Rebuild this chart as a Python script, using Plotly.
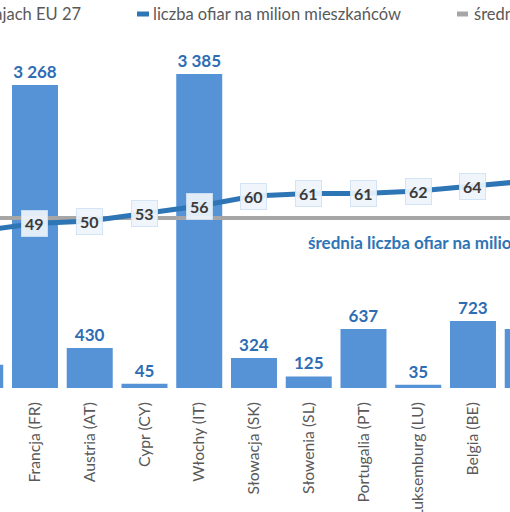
import plotly.graph_objects as go

# ---- data ----
categories = ["Finlandia (FI)", "Francja (FR)", "Austria (AT)", "Cypr (CY)", "Włochy (IT)",
              "Słowacja (SK)", "Słowenia (SL)", "Portugalia (PT)", "Luksemburg (LU)",
              "Belgia (BE)", "Węgry (HU)"]
victims = [250, 3268, 430, 45, 3385, 324, 125, 637, 35, 723, 636]
per_million = [46, 49, 50, 53, 56, 60, 61, 61, 62, 64, 66]
average_per_million = 51.2
legend_labels = ["liczba ofiar w krajach EU 27",
                 "liczba ofiar na milion mieszkańców",
                 "średnia liczba ofiar na milion mieszkańców"]
average_label = "średnia liczba ofiar na milion mieszkańców"

# ---- layout constants ----
W, H = 510, 512
TOP, BOTTOM = 40, 388
FONT = "Lato"
GRAY_TXT = "#595959"
BAR_COLOR = "#5592D6"
LINE_COLOR = "#2E75B6"
AVG_COLOR = "#A6A6A6"
BAR_LABEL_COLOR = "#2E6DB4"


def px_x(p):
    return p / W


def px_y(p):
    return (BOTTOM - p) / (BOTTOM - TOP)


def fmt(v):
    return f"{v:,}".replace(",", " ")


fig = go.Figure()
fig.add_trace(go.Bar(
    x=categories, y=victims, name=legend_labels[0],
    marker=dict(color=BAR_COLOR, line=dict(width=0)),
    text=[fmt(v) for v in victims], textposition="outside",
    textfont=dict(family=FONT, size=17, color=BAR_LABEL_COLOR, weight="bold"),
    hoverinfo="skip",
))
fig.add_trace(go.Scatter(
    x=[categories[0], categories[-1]], y=[average_per_million, average_per_million],
    name=legend_labels[2], mode="lines", yaxis="y2",
    line=dict(color=AVG_COLOR, width=4),
))
fig.add_trace(go.Scatter(
    x=categories, y=per_million, name=legend_labels[1], mode="lines", yaxis="y2",
    line=dict(color=LINE_COLOR, width=5),
))

annotations = []
for c, v in zip(categories, per_million):
    annotations.append(dict(
        x=c, y=v, xref="x", yref="y2", text=f"<b>{v}</b>", showarrow=False,
        font=dict(family=FONT, size=16, color="#3A3A3A"),
        bgcolor="rgba(238,244,251,0.93)", bordercolor="rgba(205,225,244,0.9)",
        borderwidth=1, borderpad=3,
    ))

# legend (custom)
ly = px_y(14)
LEG_SIZE = 16.5
annotations += [
    dict(x=px_x(83), y=ly, xref="paper", yref="paper", xanchor="right", yanchor="middle",
         text=legend_labels[0], showarrow=False, font=dict(family=FONT, size=LEG_SIZE, color=GRAY_TXT)),
    dict(x=px_x(151), y=ly, xref="paper", yref="paper", xanchor="left", yanchor="middle",
         text=legend_labels[1], showarrow=False, font=dict(family=FONT, size=LEG_SIZE, color=GRAY_TXT)),
    dict(x=px_x(472), y=ly, xref="paper", yref="paper", xanchor="left", yanchor="middle",
         text=legend_labels[2], showarrow=False, font=dict(family=FONT, size=LEG_SIZE, color=GRAY_TXT)),
    dict(x=px_x(306), y=px_y(242), xref="paper", yref="paper", xanchor="left", yanchor="middle",
         text=f"<b>{average_label}</b>", showarrow=False,
         font=dict(family=FONT, size=17, color=LINE_COLOR)),
]
shapes = [
    dict(type="line", xref="paper", yref="paper", x0=px_x(137), x1=px_x(149), y0=ly, y1=ly,
         line=dict(color=LINE_COLOR, width=5)),
    dict(type="line", xref="paper", yref="paper", x0=px_x(457), x1=px_x(468), y0=ly, y1=ly,
         line=dict(color=AVG_COLOR, width=5)),
]

fig.update_layout(
    width=W, height=H, autosize=False,
    margin=dict(l=0, r=0, t=TOP, b=H - BOTTOM, pad=0),
    paper_bgcolor="white", plot_bgcolor="white",
    showlegend=False, bargap=0.16,
    font=dict(family=FONT, color=GRAY_TXT),
    annotations=annotations, shapes=shapes,
    xaxis=dict(type="category", range=[0.361, 9.676], showgrid=False, zeroline=False,
               showline=False, ticks="", tickangle=-90, automargin=False,
               tickfont=dict(family=FONT, size=15.7, color=GRAY_TXT), ticklabelstandoff=10),
    yaxis=dict(range=[0, 3752], visible=False, showgrid=False),
    yaxis2=dict(range=[-16.8, 122.4], overlaying="y", visible=False, showgrid=False),
)

fig.write_html("out.html",
               config={"displayModeBar": False},
               post_script="document.body.style.margin='0';document.body.style.overflow='hidden';")
